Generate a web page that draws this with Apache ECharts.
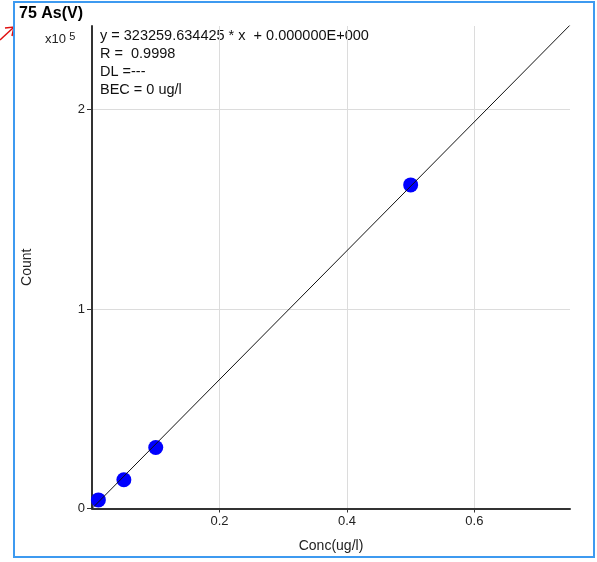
<!DOCTYPE html>
<html>
<head>
<meta charset="utf-8">
<script src="https://cdn.jsdelivr.net/npm/echarts@6/dist/echarts.min.js"></script>
<style>html,body{margin:0;padding:0;background:#fff;}#c{width:597px;height:562px;}</style>
</head>
<body>
<div id="c"></div>
<script>
// Calibration standards (concentration ug/l, counts)
const concValues = [0.01, 0.05, 0.1, 0.5];
const countValues = [4300, 14400, 30600, 162300];
// Fitted line end points
const fitX = [0, 0.75];
const fitY = [0, 242445];
const xTicks = [0.2, 0.4, 0.6];
const yTickLabels = ['0', '1', '2'];
const infoLines = ['y = 323259.634425 * x  + 0.000000E+000', 'R =  0.9998', 'DL =---', 'BEC = 0 ug/l'];

const chart = echarts.init(document.getElementById('c'), null, {renderer: 'canvas'});
const font = 'Liberation Sans, Arial, sans-serif';
const option = {
  animation: false,
  backgroundColor: '#fff',
  grid: {left: 92, right: 27, top: 26, bottom: 53.5, containLabel: false},
  xAxis: {
    type: 'value', min: 0, max: 0.75, interval: 0.2,
    name: 'Conc(ug/l)', nameLocation: 'middle', nameGap: 31,
    nameTextStyle: {fontFamily: font, fontSize: 14, color: '#222'},
    axisLine: {onZero: false, lineStyle: {color: '#333', width: 2}},
    axisTick: {show: true, length: 4, lineStyle: {color: '#333', width: 1}},
    axisLabel: {showMinLabel: false, showMaxLabel: false, fontFamily: font, fontSize: 13, color: '#222', margin: 6,
      formatter: v => xTicks.includes(Math.round(v*10)/10) ? v.toFixed(1) : ''},
    splitLine: {show: true, showMinLine: false, showMaxLine: false, lineStyle: {color: '#dcdcdc', width: 1}}
  },
  yAxis: {
    type: 'value', min: 0, max: 242000, interval: 100000,
    name: 'Count', nameLocation: 'middle', nameGap: 58, nameRotate: 90,
    nameTextStyle: {fontFamily: font, fontSize: 14, color: '#222'},
    axisLine: {onZero: false, lineStyle: {color: '#333', width: 2}},
    axisTick: {show: true, length: 5, lineStyle: {color: '#333', width: 1}},
    axisLabel: {showMaxLabel: false, fontFamily: font, fontSize: 13, color: '#222', margin: 7,
      formatter: v => { const i = Math.round(v/100000); return yTickLabels[i] !== undefined && Math.abs(v - i*100000) < 1 ? yTickLabels[i] : ''; }},
    splitLine: {show: true, showMinLine: false, showMaxLine: false, lineStyle: {color: '#dcdcdc', width: 1}}
  },
  series: [
    {
      type: 'scatter', data: concValues.map((c, i) => [c, countValues[i]]),
      symbol: 'circle', symbolSize: 15, itemStyle: {color: '#0000ff', opacity: 1}, z: 2
    },
    {
      type: 'line', data: fitX.map((x, i) => [x, fitY[i]]), showSymbol: false, symbol: 'none',
      lineStyle: {color: '#111', width: 1}, clip: true, z: 3
    }
  ],
  graphic: [
    {type: 'rect', shape: {x: 14, y: 2, width: 580, height: 555}, style: {fill: 'none', stroke: '#3d9af0', lineWidth: 2}, z: 10},
    {type: 'text', left: 19, top: 6, style: {text: '75 As(V)', font: 'bold 16px ' + font, fill: '#000'}},
    {type: 'text', left: 45, top: 31, style: {text: '{a|x10} {b|5}', rich: {a: {fontFamily: font, fontSize: 13, fill: '#222'}, b: {fontFamily: font, fontSize: 11, fill: '#222', verticalAlign: 'top', padding: [0,0,6,0]}}}},
    {type: 'polyline', shape: {points: [[0, 40], [14, 27]]}, style: {stroke: '#e01010', lineWidth: 1.5, fill: 'none'}},
    {type: 'polyline', shape: {points: [[5, 28], [14, 27], [12, 36]]}, style: {stroke: '#e01010', lineWidth: 1.5, fill: 'none'}},
    ...infoLines.map((t, i) => ({type: 'text', left: 100, top: 28 + i * 18.2, style: {text: t, font: '14.5px ' + font, fill: '#111'}}))
  ]
};
chart.setOption(option);
</script>
</body>
</html>
